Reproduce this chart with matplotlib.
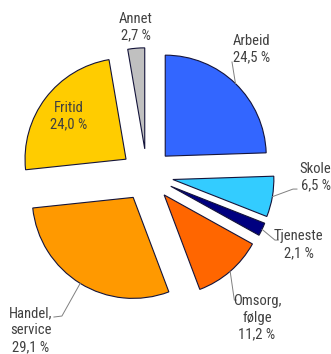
import numpy as np
import matplotlib
matplotlib.use("Agg")
import matplotlib.pyplot as plt

categories = ["Arbeid", "Skole", "Tjeneste", "Omsorg,\nfølge", "Handel,\nservice", "Fritid", "Annet"]
values = [24.5, 6.5, 2.1, 11.2, 29.1, 24.0, 2.7]
value_labels = ["24,5 %", "6,5 %", "2,1 %", "11,2 %", "29,1 %", "24,0 %", "2,7 %"]
colors = ["#3366FF", "#33CCFF", "#000080", "#FF6600", "#FF9900", "#FFCC00", "#C0C0C0"]

explode_frac = 0.26
fig = plt.figure(figsize=(3.31, 3.54), dpi=100)
ax = fig.add_axes([0, 0, 1, 1])
wedges, _ = ax.pie(values, colors=colors, startangle=90, counterclock=False,
                   explode=[explode_frac] * len(values), radius=1.0,
                   wedgeprops=dict(edgecolor="#14143a", linewidth=0.8))
ax.set_xlim(-1.455, 1.822)
ax.set_ylim(-1.772, 1.733)
ax.set_aspect("equal")
ax.axis("off")

font = dict(family=["Roboto Condensed", "Liberation Sans", "DejaVu Sans"],
            fontsize=10.5, color="#404040", ha="center", va="center", linespacing=1.25)

# label positions (layout, data units)
label_pos = {
    "Arbeid": (1.04, 1.248),
    "Skole": (1.67, -0.02),
    "Tjeneste": (1.50, -0.69),
    "Omsorg,\nfølge": (1.09, -1.416),
    "Handel,\nservice": (-1.15, -1.535),
    "Fritid": (-0.777, 0.584),
    "Annet": (-0.109, 1.465),
}
# leader elbows (layout, data units)
elbows = {
    "Arbeid": [(0.842, 1.119)],
    "Skole": [(1.446, -0.139), (1.485, -0.139)],
    "Tjeneste": [(1.267, -0.644), (1.300, -0.644)],
    "Omsorg,\nfølge": [(0.865, -1.238), (0.885, -1.238)],
    "Handel,\nservice": [(-0.842, -1.396), (-0.921, -1.406)],
}

for w, cat, vl in zip(wedges, categories, value_labels):
    mid = np.deg2rad((w.theta1 + w.theta2) / 2)
    cx, cy = w.center
    px, py = cx + w.r * np.cos(mid), cy + w.r * np.sin(mid)
    if cat in elbows:
        pts = [(px, py)] + elbows[cat]
        xs, ys = zip(*pts)
        ax.plot(xs, ys, color="#808080", lw=0.7)
    lx, ly = label_pos[cat]
    ax.text(lx, ly, f"{cat}\n{vl}", **font)

fig.savefig("out.png", dpi=100)
